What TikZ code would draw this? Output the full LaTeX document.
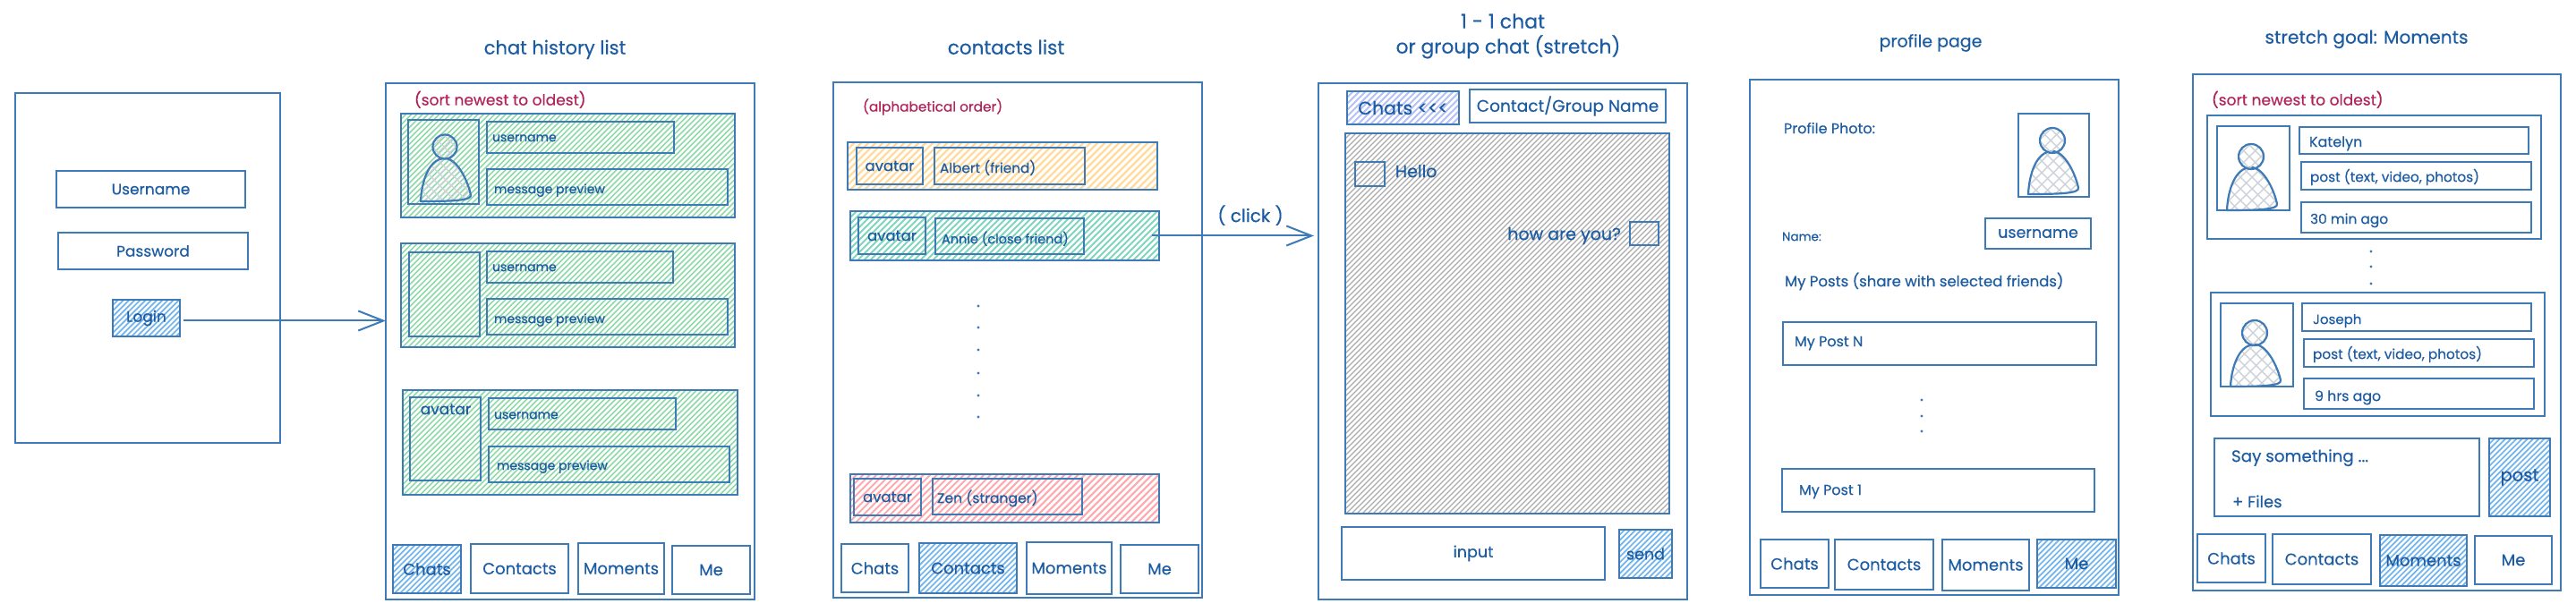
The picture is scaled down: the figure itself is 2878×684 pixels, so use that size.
\documentclass[tikz,border=0pt]{standalone}
\usepackage{fontspec}
\setmainfont{Poppins}[RawFeature={embolden=0.35}]
\usetikzlibrary{arrows.meta,shapes.geometric}
\definecolor{ink}{HTML}{3D7AB6}
\definecolor{txt}{HTML}{1C5CA3}
\definecolor{redtxt}{HTML}{B0245A}
\definecolor{hgreen}{HTML}{8FDAA8}
\definecolor{hblue}{HTML}{72B5EE}
\definecolor{hindigo}{HTML}{B4C2FA}
\definecolor{hyellow}{HTML}{FFDC9E}
\definecolor{hteal}{HTML}{7FD8BE}
\definecolor{hred}{HTML}{FFA9AE}
\definecolor{hgrey}{HTML}{ACACAC}
\definecolor{hbody}{HTML}{CDD3D9}
\tikzset{
  x=1pt,y=-1pt,
  fs/.style={font=\fontsize{#1}{#1}\selectfont},
  hatchfill/.style n args={3}{path picture={%
    \pgfmathsetmacro\hA{-\bxh}\pgfmathsetmacro\hB{-\bxh+#1}%
    \foreach \i in {\hA,\hB,...,\bxw}
      \draw[line width=#2,color=#3] ([xshift=\i pt]path picture bounding box.south west) -- ++(\bxh,-\bxh);
  }},
  crossfill/.style={path picture={%
    \pgfmathsetmacro\hA{-\bxh}\pgfmathsetmacro\hB{-\bxh+13}%
    \foreach \i in {\hA,\hB,...,\bxw}{
      \draw[line width=1.4pt,color=hbody] ([xshift=\i pt]path picture bounding box.south west) -- ++(\bxh,-\bxh);
      \draw[line width=1.4pt,color=hbody] ([xshift=\i pt]path picture bounding box.north west) -- ++(\bxh,\bxh);
    }
  }},
  box/.style={draw=ink,line width=1.8pt,inner sep=0pt,outer sep=0pt,text=txt,fs=18,anchor=north west},
  panel/.style={box,line width=2pt},
  green/.style={hatchfill={6.2}{1.6pt}{hgreen}},
  blue/.style={hatchfill={6.2}{1.7pt}{hblue}},
  indigo/.style={hatchfill={7}{2pt}{hindigo}},
  yellow/.style={hatchfill={8}{2.3pt}{hyellow}},
  teal/.style={hatchfill={7}{2pt}{hteal}},
  red/.style={hatchfill={7.5}{2.1pt}{hred}},
  grey/.style={hatchfill={6}{1.3pt}{hgrey}},
  lbl/.style={text=txt,inner sep=0pt,outer sep=0pt,fs=14,anchor=west,text height=0.75em,text depth=0.22em,yshift=-2.5pt},
  title/.style={lbl,anchor=center},
  note/.style={lbl,text=redtxt,fs=17},
  conn/.style={draw=ink,line width=2pt,-{Straight Barb[length=28pt,width=22pt,line width=2pt]}},
  dotn/.style={circle,fill=ink,inner sep=0pt,minimum size=3.2pt},
  pbody/.style={draw=ink,line width=2.2pt,line join=round,crossfill},
  phead/.style={circle,draw=ink,line width=2.2pt,inner sep=0pt,crossfill},
}
% [style]{name}{x0}{y0}{x1}{y1}{text}
\newcommand\BX[7][]{%
  \pgfmathsetmacro\bxw{#5-#3}\pgfmathsetmacro\bxh{#6-#4}%
  \node[box,#1,minimum width={(#5-#3)*1pt},minimum height={(#6-#4)*1pt}] (#2) at (#3,#4) {#7};}
% [style]{name}{x}{y}{text}
\newcommand\tx[5][]{\node[lbl,#1] (#2) at (#3,#4) {#5};}
% {name}{cx}{headcy}{r}{x0}{x1}{y0}{y1}
\newcommand\person[8]{%
  \pgfmathsetmacro\bxw{#6-#5}\pgfmathsetmacro\bxh{#8-#7}%
  \draw[pbody] (#5,#8) .. controls (#5+1,#7+26) and (#5+9,#7) .. (#2,#7)
     .. controls (#2+14,#7) and (#6-3,#7+26) .. (#6,#8-7)
     .. controls (#6+1,#8-1) and (#2+10,#8) .. (#5,#8) -- cycle;
  \pgfmathsetmacro\bxw{2*#4}\pgfmathsetmacro\bxh{2*#4}%
  \node[phead,minimum size={2*#4*1pt}] (#1) at (#2,#3) {};
}
\begin{document}
\begin{tikzpicture}
\useasboundingbox (0,0) rectangle (2878,684);
\fill[white] (0,0) rectangle (2878,684);

%% Login
\BX[panel]{loginpanel}{17}{104}{313}{495}{}
\BX[fs=17]{username}{63}{191}{274}{232}{Username}
\BX[fs=17]{password}{65}{260}{277}{301}{Password}
\BX[blue,fs=17]{login}{126}{335}{201}{376}{Login}

%% Chat history
\tx[title,fs=21]{t1}{620}{53}{chat history list}
\BX[panel]{histpanel}{431}{93}{843}{670}{}
\tx[note]{n1}{463}{110}{(sort newest to oldest)}

\BX[green]{r1}{448}{127}{821}{243}{}
\BX{r1a}{456}{134}{535}{228}{}
\person{r1p}{497}{164}{13.5}{470}{526}{177}{225}
\BX{r1u}{544}{136}{753}{171}{}
\tx{r1ut}{550}{153}{username}
\BX{r1m}{544}{189}{813}{229}{}
\tx{r1mt}{552}{211}{message preview}

\BX[green]{r2}{448}{272}{821}{388}{}
\BX{r2a}{457}{282}{536}{376}{}
\BX{r2u}{544}{281}{752}{316}{}
\tx{r2ut}{550}{298}{username}
\BX{r2m}{544}{334}{813}{374}{}
\tx{r2mt}{552}{356}{message preview}

\BX[green]{r3}{450}{436}{824}{553}{}
\BX{r3a}{458}{444}{537}{537}{}
\tx[anchor=center,fs=17]{r3at}{498}{458}{avatar}
\BX{r3u}{546}{445}{755}{480}{}
\tx{r3ut}{552}{463}{username}
\BX{r3m}{546}{499}{815}{539}{}
\tx{r3mt}{555}{520}{message preview}

\BX[blue]{b1}{439}{609}{515}{663}{Chats}
\BX{b2}{526}{608}{635}{663}{Contacts}
\BX{b3}{646}{607}{742}{664}{Moments}
\BX{b4}{751}{610}{838}{664}{Me}

%% Contacts
\tx[title,fs=21.5]{t2}{1124}{53}{contacts list}
\BX[panel]{conpanel}{931}{92}{1343}{668}{}
\tx[note,fs=15.3]{n2}{964}{117}{(alphabetical order)}

\BX[yellow]{ca}{947}{159}{1293}{212}{}
\BX[fs=16.5]{caa}{957}{165}{1031}{206}{avatar}
\BX{cab}{1044}{165}{1212}{206}{}
\tx[fs=15.3]{cat}{1050}{188}{Albert (friend)}

\BX[teal]{cb}{950}{236}{1295}{291}{}
\BX[fs=16.5]{cba}{959}{243}{1034}{284}{avatar}
\BX{cbb}{1045}{244}{1211}{284}{}
\tx[fs=14.5]{cbt}{1052}{267}{Annie (close friend)}

\node[dotn] (d1) at (1093,342) {};
\node[dotn] (d2) at (1093,366) {};
\node[dotn] (d3) at (1093,391) {};
\node[dotn] (d4) at (1093,417) {};
\node[dotn] (d5) at (1093,442) {};
\node[dotn] (d6) at (1093,466) {};

\BX[red]{cc}{950}{530}{1295}{584}{}
\BX[fs=16.5]{cca}{954}{535}{1029}{576}{avatar}
\BX{ccb}{1042}{535}{1209}{575}{}
\tx[fs=15.6]{cct}{1047}{557}{Zen (stranger)}

\BX{c1}{940}{608}{1015}{662}{Chats}
\BX[blue]{c2}{1027}{607}{1136}{663}{Contacts}
\BX{c3}{1147}{606}{1242}{664}{Moments}
\BX{c4}{1252}{609}{1339}{663}{Me}

%% Chat
\tx[title,fs=22]{t3a}{1679}{24}{1 - 1 chat}
\tx[title,fs=21.8]{t3b}{1685}{52}{or group chat (stretch)}
\BX[panel]{chatpanel}{1473}{93}{1885}{670}{}
\BX[indigo,fs=20.5]{back}{1505}{102}{1630}{139}{Chats {<}{<}{<}}
\BX[fs=18.6]{group}{1642}{100}{1861}{137}{Contact/Group Name}
\BX[grey]{msgs}{1503}{149}{1865}{574}{}
\BX{m1}{1514}{181}{1547}{208}{}
\tx[fs=19]{m1t}{1559}{193}{Hello}
\BX{m2}{1821}{248}{1853}{274}{}
\tx[fs=19,anchor=east]{m2t}{1811}{263}{how are you?}
\BX[fs=17.5]{input}{1499}{589}{1793}{648}{input}
\BX[blue,fs=17.5]{send}{1809}{592}{1868}{646}{send}
\tx[fs=20,anchor=center]{click}{1397}{243}{( click )}

%% Profile
\tx[title,fs=19]{t4}{2157}{45}{profile page}
\BX[panel]{profpanel}{1955}{89}{2367}{665}{}
\tx[fs=16]{pl}{1993}{144}{Profile Photo:}
\BX{pa}{2255}{127}{2334}{220}{}
\person{pp}{2293}{157}{14}{2266}{2322}{169}{217}
\tx[fs=13.5]{pn}{1991}{264}{Name:}
\BX[fs=17.5]{pu}{2218}{244}{2336}{278}{username}
\tx[fs=16.5]{ps}{1994}{315}{My Posts (share with selected friends)}
\BX{pN}{1992}{360}{2342}{408}{}
\tx[fs=16]{pNt}{2005}{382}{My Post N}
\node[dotn] (pd1) at (2147,447) {};
\node[dotn] (pd2) at (2147,465) {};
\node[dotn] (pd3) at (2147,482) {};
\BX{p1}{1991}{524}{2340}{572}{}
\tx[fs=16]{p1t}{2010}{548}{My Post 1}
\BX{e1}{1967}{603}{2043}{657}{Chats}
\BX{e2}{2050}{603}{2160}{659}{Contacts}
\BX{e3}{2170}{603}{2267}{660}{Moments}
\BX[blue]{e4}{2276}{603}{2364}{657}{Me}

%% Moments
\tx[title,fs=20.2]{t5}{2644}{41}{stretch goal: Moments}
\BX[panel]{mompanel}{2450}{83}{2861}{660}{}
\tx[note]{n5}{2471}{110}{(sort newest to oldest)}

\BX{k}{2466}{129}{2839}{267}{}
\BX{ka}{2477}{141}{2558}{235}{}
\person{kp}{2515}{175}{14}{2488}{2544}{187}{235}
\BX{kn}{2569}{142}{2825}{172}{}
\tx[fs=16]{knt}{2580}{159}{Katelyn}
\BX{kb}{2571}{181}{2828}{212}{}
\tx[fs=15.3]{kbt}{2581}{198}{post (text, video,  photos)}
\BX{kc}{2571}{226}{2828}{260}{}
\tx[fs=15.4]{kct}{2581}{245}{30 min ago}

\node[dotn] (md1) at (2649,281) {};
\node[dotn] (md2) at (2649,298) {};
\node[dotn] (md3) at (2649,317) {};

\BX{j}{2470}{327}{2843}{465}{}
\BX{ja}{2481}{339}{2562}{432}{}
\person{jp}{2519}{372}{14}{2492}{2548}{385}{432}
\BX{jn}{2572}{339}{2828}{370}{}
\tx[fs=15]{jnt}{2584}{357}{Joseph}
\BX{jb}{2574}{379}{2831}{410}{}
\tx[fs=15.3]{jbt}{2584}{396}{post (text, video,  photos)}
\BX{jc}{2574}{423}{2831}{457}{}
\tx[fs=15.8]{jct}{2586}{443}{9 hrs ago}

\BX{say}{2474}{490}{2770}{577}{}
\tx[fs=18.3]{sayt}{2493}{511}{Say something ...}
\tx[fs=18]{files}{2494}{562}{+ Files}
\BX[blue,fs=19.5]{post}{2781}{490}{2849}{577}{post}
\BX{f1}{2455}{597}{2531}{651}{Chats}
\BX{f2}{2539}{597}{2649}{653}{Contacts}
\BX[blue]{f3}{2659}{598}{2756}{655}{Moments}
\BX{f4}{2765}{599}{2851}{653}{Me}

%% Connectors
\coordinate (a1) at ([shift={(4,3)}]login.east);
\coordinate (b1) at ([shift={(-8,0)}]cb.east);
\draw[conn] (a1) -- (a1 -| histpanel.west);
\draw[conn] (b1) -- ([xshift=-5pt]b1 -| chatpanel.west);
\end{tikzpicture}
\end{document}
